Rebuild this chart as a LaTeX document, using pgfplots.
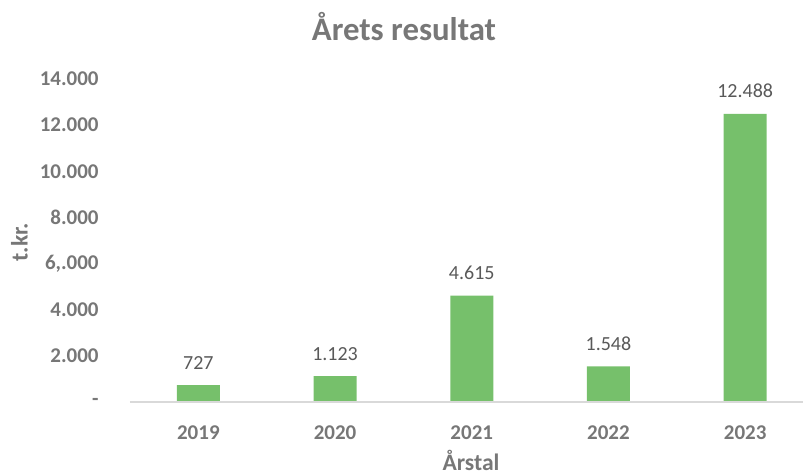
\documentclass[border=0pt]{standalone}
\usepackage{pgfplots}
\pgfplotsset{compat=1.18}
\usepackage{fontspec}
\setmainfont{Carlito}
\definecolor{bargreen}{HTML}{76C06B}
\definecolor{ticktxt}{HTML}{777777}
\definecolor{labtxt}{HTML}{595959}
\definecolor{axline}{HTML}{D9D9D9}
\begin{document}
\begin{tikzpicture}
\begin{axis}[
  at={(0,0)}, anchor=south west,
  scale only axis,
  width=336.5pt, height=161.5pt,
  xmin=-0.5, xmax=4.423,
  ymin=0, ymax=14000,
  axis line style={draw=none},
  ytick={0,2000,4000,6000,8000,10000,12000,14000},
  yticklabels={-\hspace{3pt},2.000,4.000,{6,.000\hspace{-3pt}},8.000,10.000,12.000,14.000},
  xtick={0,1,2,3,4},
  xticklabels={2019,2020,2021,2022,2023},
  major tick length=0pt,
  tick style={draw=none},
  yticklabel style={font=\fontsize{10.5pt}{12pt}\selectfont\bfseries, text=ticktxt, inner sep=0pt, anchor=east, xshift=-15.5pt},
  xticklabel style={font=\fontsize{10.5pt}{12pt}\selectfont\bfseries, text=ticktxt, inner sep=0pt, anchor=base, yshift=-18.5pt},
  scaled y ticks=false,
  clip=false,
  ybar, bar width=21.5pt, bar shift=0pt,
  nodes near coords,
  point meta=explicit symbolic,
  nodes near coords style={font=\fontsize{10pt}{12pt}\selectfont, text=labtxt, anchor=base, inner sep=0pt, yshift=8pt},
]
\addplot[fill=bargreen, draw=none] coordinates {
  (0,727) [727]
  (1,1123) [1.123]
  (2,4615) [4.615]
  (3,1548) [1.548]
  (4,12488) [12.488]
};
\draw[axline, line width=0.75pt] (axis cs:-0.5,0) -- (axis cs:4.423,0);
\end{axis}
\node[anchor=base, text=ticktxt, font=\fontsize{16.4pt}{19pt}\selectfont\bfseries, inner sep=0pt] at (137pt,181pt) {Årets resultat};
\node[anchor=center, rotate=90, text=ticktxt, font=\fontsize{11.8pt}{14pt}\selectfont\bfseries, inner sep=0pt] at (-55.25pt,80pt) {t.kr.};
\node[anchor=base, text=ticktxt, font=\fontsize{11.8pt}{14pt}\selectfont\bfseries, inner sep=0pt] at (170.5pt,-34pt) {Årstal};
\pgfresetboundingbox
\path (-65pt,-35.5pt) rectangle (336.5pt,201pt);
\end{tikzpicture}
\end{document}
